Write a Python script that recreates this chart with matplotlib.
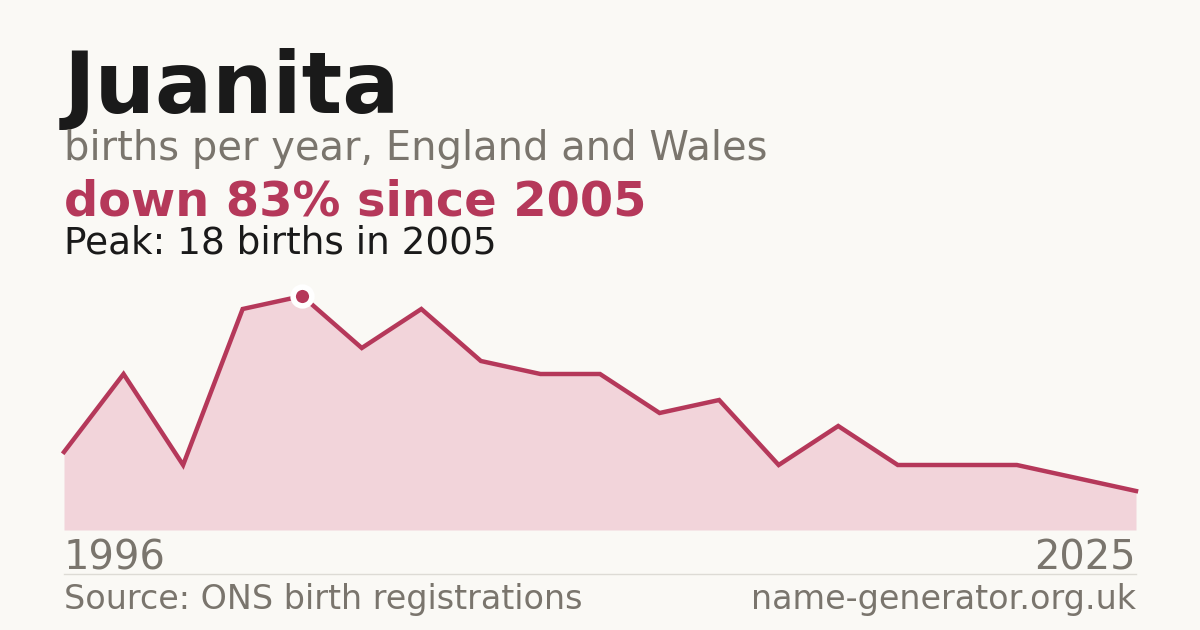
import matplotlib
matplotlib.use("Agg")
import matplotlib.pyplot as plt

plt.rcParams["font.family"] = ["DejaVu Sans"]

# --- Data (births per year) ---
births = [6, 12, 5, 17, 18, 14, 17, 13, 12, 12, 9, 10, 5, 8, 5, 5, 5, 4, 3]
first_year = "1996"
last_year = "2025"
peak_idx = 4

# --- Colours ---
BG = "#faf9f5"
RED = "#b5385a"
FILL = "#f2d4da"
GREY = "#7a756d"
DARK = "#1a1a1a"

W, H = 1200, 630
fig = plt.figure(figsize=(12, 6.3), dpi=100, facecolor=BG)


def fy(px):
    return 1 - px / H


def fx(px):
    return px / W


# plot area: x 64..1136 px, value 0 at y=530, value 18 at y=296
ax = fig.add_axes([fx(64), fy(530), fx(1136 - 64), (530 - 296) / H])
ax.set_facecolor(BG)
x = list(range(len(births)))
ax.fill_between(x, births, 0, color=FILL, lw=0)
ax.plot(x, births, color=RED, lw=3.2, solid_joinstyle="miter", clip_on=False)
ax.plot(x[peak_idx], births[peak_idx], "o", ms=13.5, color=RED,
        mec="white", mew=4, clip_on=False, zorder=5)
ax.set_xlim(0, len(births) - 1)
ax.set_ylim(0, max(births))
ax.axis("off")

# --- Text ---
fig.text(fx(64), fy(113), "Juanita", fontsize=61, fontweight="bold",
         color=DARK, va="baseline")
fig.text(fx(64), fy(160), "births per year, England and Wales", fontsize=28.8,
         color=GREY, va="baseline")
fig.text(fx(64), fy(215), "down 83% since 2005", fontsize=34.5,
         fontweight="bold", color=RED, va="baseline")
fig.text(fx(64), fy(254), "Peak: 18 births in 2005", fontsize=26.9,
         color=DARK, va="baseline")

fig.text(fx(64), fy(570), first_year, fontsize=28.8, color=GREY, va="baseline")
fig.text(fx(1136), fy(570), last_year, fontsize=28.8, color=GREY,
         va="baseline", ha="right")

fig.add_artist(plt.Line2D([fx(64), fx(1136)], [fy(574), fy(574)],
                          color="#dddbd5", lw=1))

fig.text(fx(64), fy(609), "Source: ONS birth registrations", fontsize=24,
         color=GREY, va="baseline")
fig.text(fx(1136), fy(609), "name-generator.org.uk", fontsize=24,
         color=GREY, va="baseline", ha="right")

fig.savefig("out.png", dpi=100, facecolor=BG)
